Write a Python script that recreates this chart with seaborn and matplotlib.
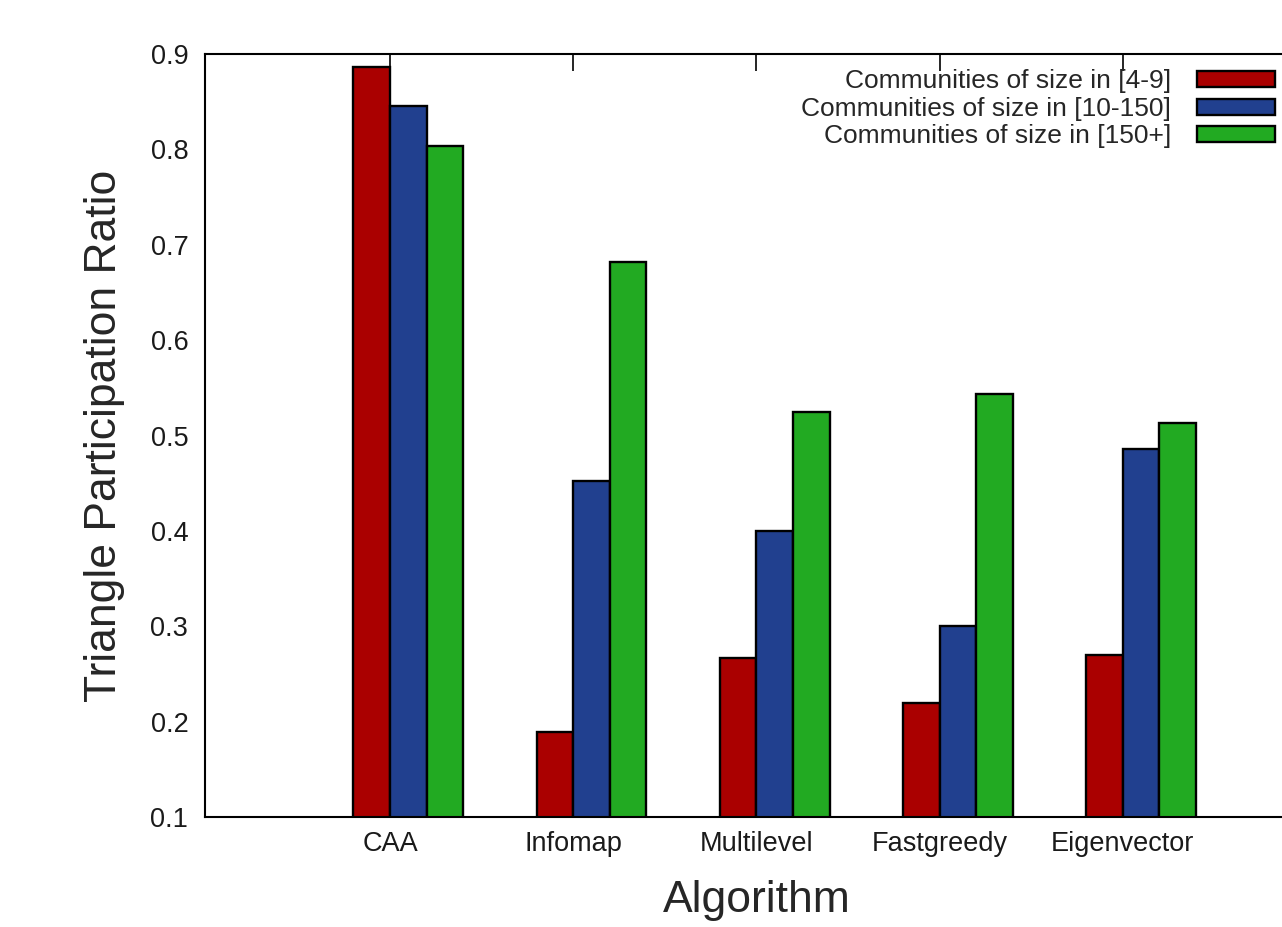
import matplotlib
matplotlib.use('Agg')
from matplotlib import pyplot as plt
from matplotlib.patches import Patch
import pandas as pd
import seaborn as sns

algorithms = ['CAA', 'Infomap', 'Multilevel', 'Fastgreedy', 'Eigenvector']
groups = ['Communities of size in [4-9]',
          'Communities of size in [10-150]',
          'Communities of size in [150+]']
small = [0.886, 0.189, 0.267, 0.220, 0.270]
medium = [0.845, 0.452, 0.400, 0.300, 0.486]
large = [0.804, 0.682, 0.525, 0.544, 0.513]
colors = ['#aa0000', '#21408f', '#22aa22']
yticks = [0.1, 0.2, 0.3, 0.4, 0.5, 0.6, 0.7, 0.8, 0.9]


def build_frame():
    rows = []
    for group, values in zip(groups, [small, medium, large]):
        for algo, v in zip(algorithms, values):
            rows.append({'algorithm': algo, 'group': group, 'value': v})
    return pd.DataFrame(rows)


def main():
    sns.set_style('white')
    plt.rcParams['font.family'] = ['Liberation Sans', 'DejaVu Sans']

    df = build_frame()
    fig = plt.figure(figsize=(12.82, 9.27), dpi=100)
    # right edge of the axes lies past the figure, as in the cropped original
    ax = fig.add_axes([205 / 1282, 110 / 927, 1101 / 1282, 763 / 927])

    sns.barplot(data=df, x='algorithm', y='value', hue='group',
                palette=colors, width=0.6, edgecolor='black',
                linewidth=1.7, saturation=1, legend=False, ax=ax)

    ax.set_ylim(0.1, 0.9)
    ax.set_xlim(-1.11, 4.9)
    ax.set_yticks(yticks, [f'{t:.1f}' for t in yticks])
    ax.set_xticks([i - 0.1 for i in range(len(algorithms))], algorithms)
    ax.tick_params(direction='in', length=12, width=1.2, top=True,
                   right=True, labelsize=19.5, colors='black',
                   labelcolor='#1a1a1a')
    ax.tick_params(axis='y', pad=12)
    ax.tick_params(axis='x', pad=10)
    for sp in ax.spines.values():
        sp.set_linewidth(1.5)
        sp.set_color('black')

    ax.set_xlabel('Algorithm', fontsize=32)
    ax.set_ylabel('Triangle Participation Ratio', fontsize=32)
    ax.xaxis.set_label_coords(0.501, -0.083)
    ax.yaxis.set_label_coords(-0.073, 0.5)

    handles = [Patch(facecolor=c, edgecolor='black', linewidth=1.7)
               for c in colors]
    ax.legend(handles, groups, loc='upper right',
              bbox_to_anchor=(0.984, 0.997), frameon=False, fontsize=19,
              markerfirst=False, borderpad=0, handlelength=2.95,
              handleheight=0.55, handletextpad=1.0, labelspacing=0.13)

    plt.savefig('out.png', dpi=100)


if __name__ == '__main__':
    main()
